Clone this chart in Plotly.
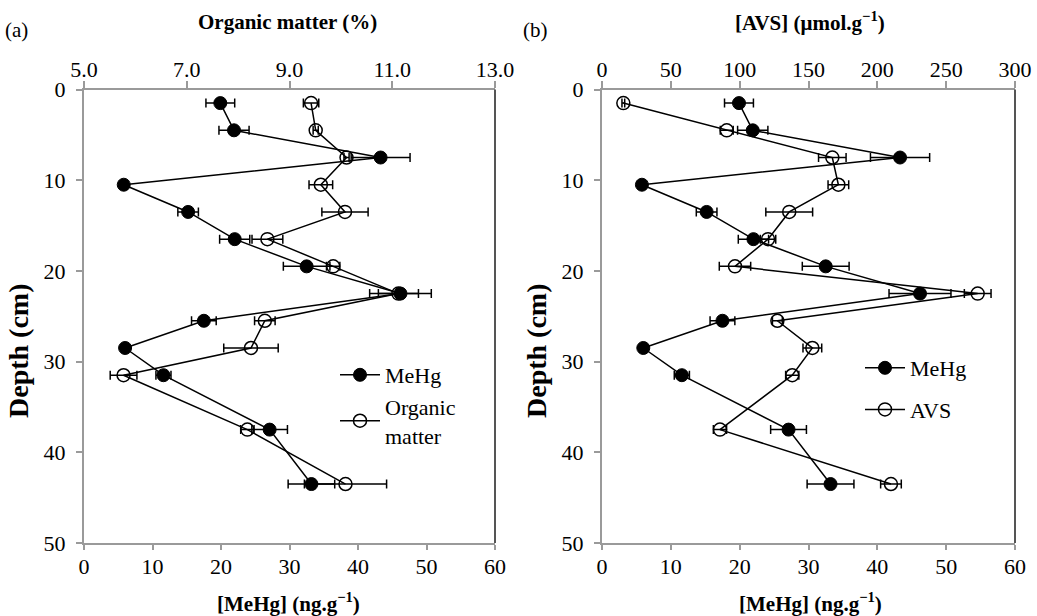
import plotly.graph_objects as go

depth = [1.5, 4.5, 7.5, 10.5, 13.5, 16.5, 19.5, 22.5, 25.5, 28.5, 31.5, 37.5, 43.5]
mehg = [19.9, 21.9, 43.3, 5.8, 15.2, 22.0, 32.5, 46.2, 17.5, 6.0, 11.6, 27.1, 33.2]
mehg_err = [2.1, 2.2, 4.3, 0.3, 1.5, 2.2, 3.4, 4.5, 1.8, 0.3, 1.1, 2.6, 3.4]
om = [9.42, 9.51, 10.11, 9.61, 10.08, 8.57, 9.85, 11.12, 8.52, 8.25, 5.77, 8.18, 10.09]
om_err = [0.15, 0.05, 0.05, 0.23, 0.45, 0.30, 0.13, 0.39, 0.20, 0.53, 0.26, 0.13, 0.80]
avs = [15.5, 90.6, 167.3, 171.7, 136.0, 120.6, 96.6, 272.9, 127.4, 152.8, 138.2, 85.7, 209.9]
avs_err = [1.0, 4.7, 10.0, 7.5, 17.0, 5.6, 11.4, 9.7, 3.6, 6.8, 4.8, 4.8, 7.5]

FONT = "Liberation Serif"
W, H = 1037, 616

def err(a):
    return dict(type="data", array=a, visible=True, color="black", thickness=1.5, width=4.5)

filled = dict(symbol="circle", size=13, color="black", line=dict(color="black", width=1))
opened = dict(symbol="circle-open", size=13, color="black", line=dict(color="black", width=1.5))
line = dict(color="black", width=1.5)

fig = go.Figure()
fig.add_trace(go.Scatter(x=mehg, y=depth, xaxis="x", yaxis="y", mode="lines+markers",
                         marker=filled, line=line, error_x=err(mehg_err), name="MeHg",
                         legend="legend", legendgroup="a1", legendrank=1))
fig.add_trace(go.Scatter(x=om, y=depth, xaxis="x2", yaxis="y", mode="lines+markers",
                         marker=opened, line=line, error_x=err(om_err), name="Organic<br>matter",
                         legend="legend", legendgroup="a2", legendrank=2))
fig.add_trace(go.Scatter(x=mehg, y=depth, xaxis="x3", yaxis="y2", mode="lines+markers",
                         marker=filled, line=line, error_x=err(mehg_err), name="MeHg",
                         legend="legend2", legendgroup="b1", legendrank=1))
fig.add_trace(go.Scatter(x=avs, y=depth, xaxis="x4", yaxis="y2", mode="lines+markers",
                         marker=opened, line=line, error_x=err(avs_err), name="AVS",
                         legend="legend2", legendgroup="b2", legendrank=2))

dom_a = [84 / W, 495 / W]
dom_b = [602 / W, 1015 / W]
dom_y = [1 - 543 / H, 1 - 89.5 / H]

TICKF = dict(family=FONT, size=22, color="black")
axis_common = dict(showgrid=False, zeroline=False, showline=True, linecolor="#9a9a9a", linewidth=2,
                   ticks="outside", tickcolor="#9a9a9a", tickwidth=1.5, tickfont=TICKF,
                   automargin=False)
xb = dict(ticklen=5, ticklabelstandoff=-2, **axis_common)
xt = dict(ticklen=7, ticklabelstandoff=-5, **axis_common)
yl = dict(ticklen=6, ticklabelstandoff=6, **axis_common)

fig.update_layout(
    width=W, height=H, margin=dict(l=0, r=0, t=0, b=0, autoexpand=False),
    paper_bgcolor="white", plot_bgcolor="white",
    font=dict(family=FONT, size=21, color="black"),
    xaxis=dict(domain=dom_a, anchor="y", range=[0, 60], dtick=10, side="bottom", **xb),
    xaxis2=dict(domain=dom_a, anchor="y", overlaying="x", range=[5, 13], tick0=5, dtick=2,
                tickformat=".1f", side="top", **xt),
    yaxis=dict(domain=dom_y, anchor="x", range=[50, 0], dtick=10, **yl),
    xaxis3=dict(domain=dom_b, anchor="y2", range=[0, 60], dtick=10, side="bottom", **xb),
    xaxis4=dict(domain=dom_b, anchor="y2", overlaying="x3", range=[0, 300], dtick=50, side="top", **xt),
    yaxis2=dict(domain=dom_y, anchor="x3", range=[50, 0], dtick=10, **yl),
    legend=dict(x=335 / W, y=1 - 354 / H, xanchor="left", yanchor="top", bgcolor="rgba(0,0,0,0)",
                font=dict(family=FONT, size=22, color="black"), tracegroupgap=0, itemwidth=40),
    legend2=dict(x=860 / W, y=1 - 347 / H, xanchor="left", yanchor="top", bgcolor="rgba(0,0,0,0)",
                 font=dict(family=FONT, size=22, color="black"), tracegroupgap=10, itemwidth=40),
    showlegend=True,
)

for d in (dom_a, dom_b):
    fig.add_shape(type="line", xref="paper", yref="paper", x0=d[1], x1=d[1], y0=dom_y[0], y1=dom_y[1],
                  line=dict(color="#555555", width=2))

TITLEF = dict(family=FONT, size=21, color="black", weight="bold")

def ann(text, x, y, font, angle=0):
    fig.add_annotation(text=text, xref="paper", yref="paper", x=x / W, y=1 - y / H, showarrow=False,
                       xanchor="center", yanchor="middle", font=font, textangle=angle)

ann("(a)", 16, 30, dict(family=FONT, size=21, color="black"))
ann("(b)", 535, 30, dict(family=FONT, size=21, color="black"))
ann("Organic matter (%)", 287, 22, TITLEF)
ann("[AVS] (μmol.g<sup>−1</sup>)", 810, 22, TITLEF)
ann("[MeHg] (ng.g<sup>−1</sup>)", 288, 602, TITLEF)
ann("[MeHg] (ng.g<sup>−1</sup>)", 810, 602, TITLEF)
ann("Depth (cm)", 18, 351, dict(family=FONT, size=28, color="black", weight="bold"), -90)
ann("Depth (cm)", 536, 351, dict(family=FONT, size=28, color="black", weight="bold"), -90)

fig.write_html("out.html", config={"displayModeBar": False},
               post_script="document.body.style.margin='0';document.body.style.overflow='hidden';")
